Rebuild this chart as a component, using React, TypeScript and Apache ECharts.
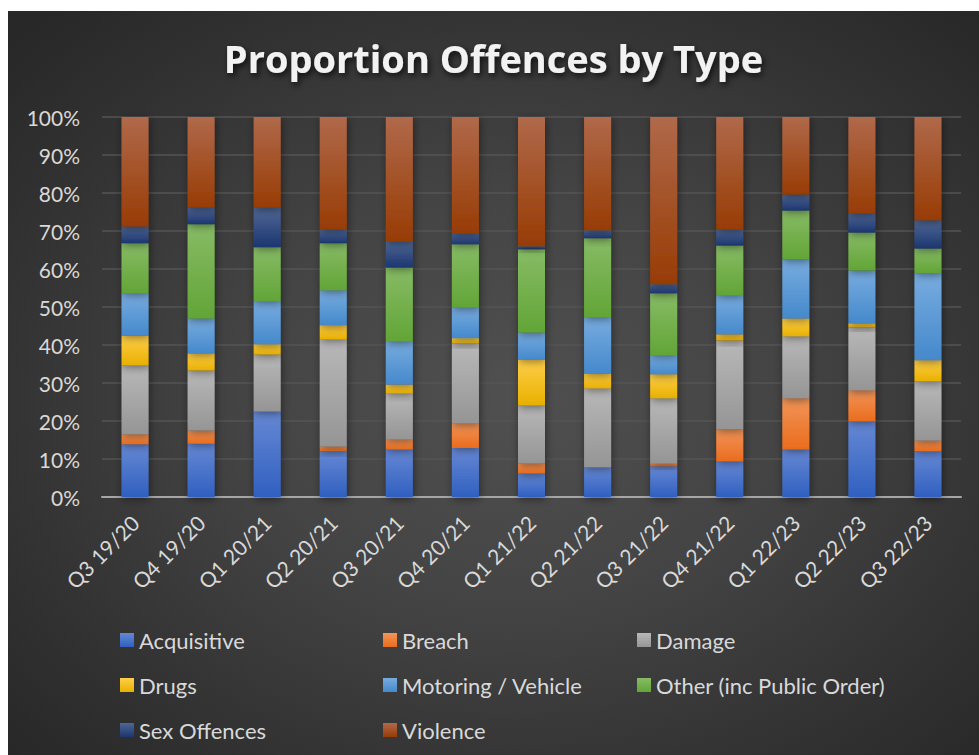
import React, { useEffect, useRef } from "react";
import * as echarts from "echarts";

const categories = [
  "Q3 19/20", "Q4 19/20", "Q1 20/21", "Q2 20/21", "Q3 20/21", "Q4 20/21", "Q1 21/22",
  "Q2 21/22", "Q3 21/22", "Q4 21/22", "Q1 22/23", "Q2 22/23", "Q3 22/23",
];
const acquisitive = [13.9, 14.0, 22.5, 12.0, 12.5, 12.9, 6.2, 7.8, 8.1, 9.4, 12.5, 19.9, 12.0];
const breach = [2.6, 3.5, 0, 1.3, 2.7, 6.5, 2.6, 0, 0.8, 8.4, 13.5, 8.2, 2.9];
const damage = [18.1, 15.8, 15.0, 28.2, 12.1, 21.0, 15.3, 20.8, 17.1, 23.4, 16.3, 16.5, 15.5];
const drugs = [7.9, 4.5, 2.7, 3.7, 2.3, 1.4, 12.1, 3.9, 6.3, 1.6, 4.7, 1.1, 5.6];
const motoring = [11.1, 9.2, 11.3, 9.2, 11.4, 8.1, 7.1, 14.8, 5.0, 10.3, 15.5, 13.9, 22.9];
const other = [13.2, 24.8, 14.2, 12.4, 19.4, 16.6, 21.9, 20.8, 16.3, 13.1, 12.9, 10.0, 6.5];
const sexOffences = [4.4, 4.3, 10.4, 3.6, 6.9, 2.9, 0.8, 2.1, 2.4, 4.2, 4.2, 5.0, 7.4];
const violence = [28.8, 23.9, 23.9, 29.6, 32.7, 30.6, 34.0, 29.8, 44.0, 29.6, 20.4, 25.4, 27.2];

const seriesNames = [
  "Acquisitive", "Breach", "Damage", "Drugs", "Motoring / Vehicle",
  "Other (inc Public Order)", "Sex Offences", "Violence",
];
const seriesData = [acquisitive, breach, damage, drugs, motoring, other, sexOffences, violence];
const topColors = ["#6688d4", "#f2955a", "#b8b8b8", "#ffcf4a", "#78acdf", "#87bb65", "#4f6795", "#b0694a"];
const bottomColors = ["#3060c0", "#ea6c1c", "#959595", "#e8b000", "#4589cc", "#62a537", "#1c3670", "#983c05"];
const yTicks = [0, 10, 20, 30, 40, 50, 60, 70, 80, 90, 100];

const FONT = "Lato, 'Noto Sans', sans-serif";

export default function App() {
  const ref = useRef<HTMLDivElement>(null);
  useEffect(() => {
    if (!ref.current) return;
    const chart = echarts.init(ref.current, undefined, { renderer: "svg" });
    const legendPos = [
      [112, 616], [375, 616], [629, 616],
      [112, 661], [375, 661], [629, 661],
      [112, 706], [375, 706],
    ];
    chart.setOption({
      animation: false,
      backgroundColor: "transparent",
      textStyle: { fontFamily: FONT },
      title: {
        text: "Proportion Offences by Type",
        left: "center",
        top: 23,
        textStyle: {
          fontFamily: "'Open Sans', Lato, sans-serif",
          fontSize: 38,
          fontWeight: "bold",
          color: "#f2f2f2",
          textShadowColor: "rgba(0,0,0,0.75)",
          textShadowBlur: 6,
          textShadowOffsetX: 2,
          textShadowOffsetY: 3,
        },
      },
      legend: seriesNames.map((n, i) => ({
        data: [n],
        left: legendPos[i][0],
        top: legendPos[i][1],
        padding: 0,
        icon: "rect",
        itemWidth: 14,
        itemHeight: 14,
        selectedMode: false,
        textStyle: { color: "#d9d9d9", fontSize: 22, fontFamily: FONT, lineHeight: 26 },
      })),
      grid: { left: 94, right: 18, top: 106, bottom: 258, containLabel: false },
      xAxis: {
        type: "category",
        data: categories,
        axisLine: { lineStyle: { color: "#a6a6a6", width: 2 } },
        axisTick: { show: false },
        axisLabel: { rotate: 45, color: "#d9d9d9", fontSize: 21, margin: 22, fontFamily: FONT },
      },
      yAxis: {
        type: "value",
        min: yTicks[0],
        max: yTicks[yTicks.length - 1],
        interval: 10,
        axisLine: { show: false },
        axisTick: { show: false },
        splitLine: { lineStyle: { color: "#555555", width: 1.5 } },
        axisLabel: { color: "#d9d9d9", fontSize: 21, margin: 22, formatter: "{value}%", fontFamily: FONT },
      },
      series: seriesNames.map((n, i) => ({
        name: n,
        type: "bar",
        stack: "total",
        barWidth: 27,
        data: seriesData[i],
        itemStyle: {
          color: new echarts.graphic.LinearGradient(0, 0, 0, 1, [
            { offset: 0, color: topColors[i] },
            { offset: 1, color: bottomColors[i] },
          ]),
          shadowColor: "rgba(0,0,0,0.45)",
          shadowBlur: 8,
          shadowOffsetX: 1,
          shadowOffsetY: 2,
        },
      })),
    });
    return () => chart.dispose();
  }, []);
  return (
    <div
      style={{
        position: "absolute",
        left: 8,
        top: 11,
        width: 971,
        height: 744,
        background:
          "radial-gradient(ellipse 70% 70% at 52% 52%, #505050 0%, #444444 40%, #333333 75%, #282828 100%)",
      }}
    >
      <div ref={ref} style={{ width: 971, height: 744 }} />
    </div>
  );
}
